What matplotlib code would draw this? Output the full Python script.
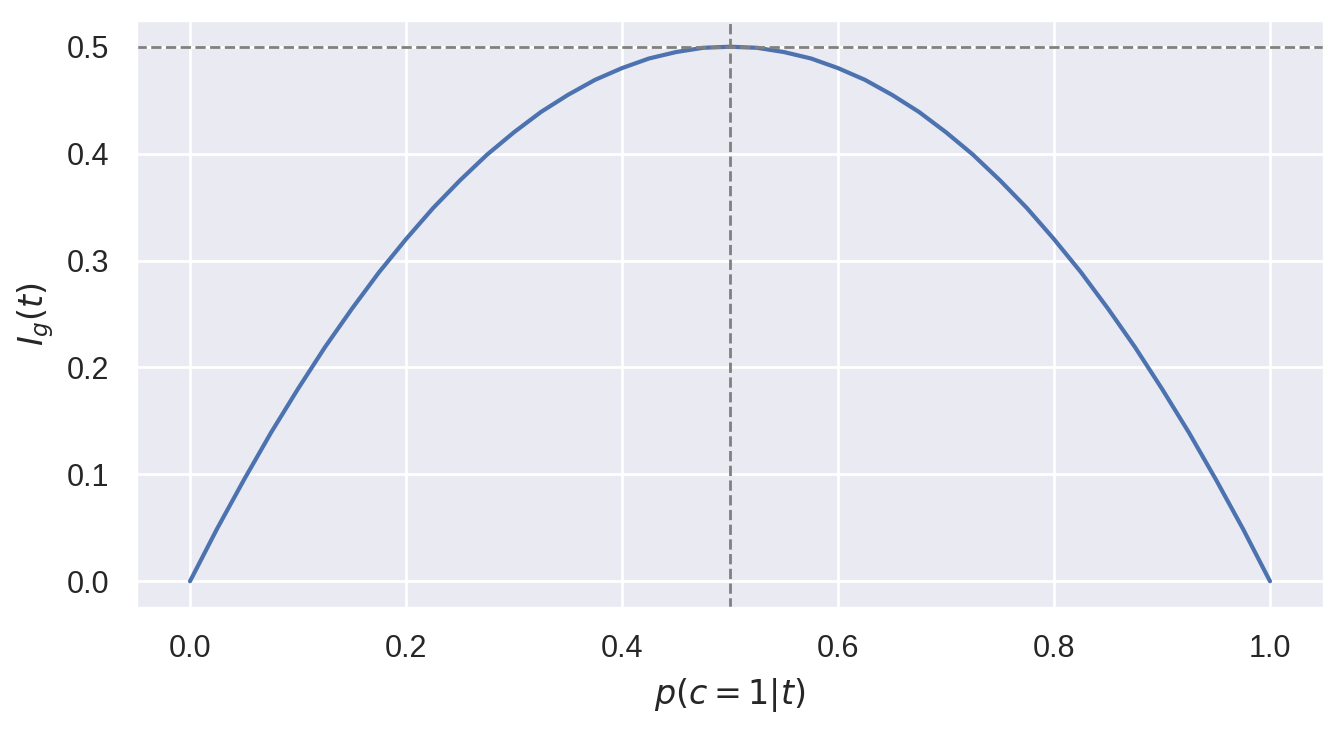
import matplotlib
matplotlib.use("Agg")
import matplotlib.pyplot as plt
import seaborn as sns

sns.set_theme()
plt.rcParams['font.family'] = ['Liberation Sans', 'DejaVu Sans']

# values
p = [0.0, 0.025, 0.05, 0.075, 0.1, 0.125, 0.15, 0.175, 0.2, 0.225, 0.25,
     0.275, 0.3, 0.325, 0.35, 0.375, 0.4, 0.425, 0.45, 0.475, 0.5,
     0.525, 0.55, 0.575, 0.6, 0.625, 0.65, 0.675, 0.7, 0.725, 0.75,
     0.775, 0.8, 0.825, 0.85, 0.875, 0.9, 0.925, 0.95, 0.975, 1.0]
gini = [0.0, 0.049, 0.095, 0.139, 0.18, 0.219, 0.255, 0.289, 0.32, 0.349, 0.375,
        0.399, 0.42, 0.439, 0.455, 0.469, 0.48, 0.489, 0.495, 0.499, 0.5,
        0.499, 0.495, 0.489, 0.48, 0.469, 0.455, 0.439, 0.42, 0.399, 0.375,
        0.349, 0.32, 0.289, 0.255, 0.219, 0.18, 0.139, 0.095, 0.049, 0.0]
peak_p = 0.5
peak_val = 0.5

fig, ax = plt.subplots(figsize=(6.72, 3.645), dpi=200)
fig.subplots_adjust(left=136 / 1344, right=1324 / 1344,
                    top=1 - 20 / 729, bottom=1 - 608 / 729)

ax.plot(p, gini)
ax.axhline(peak_val, color='gray', linestyle='--', linewidth=1)
ax.axvline(peak_p, color='gray', linestyle='--', linewidth=1)
ax.set_xlabel('$p(c=1|t)$')
ax.set_ylabel('$I_g(t)$')

fig.savefig('out.png', dpi=200)
